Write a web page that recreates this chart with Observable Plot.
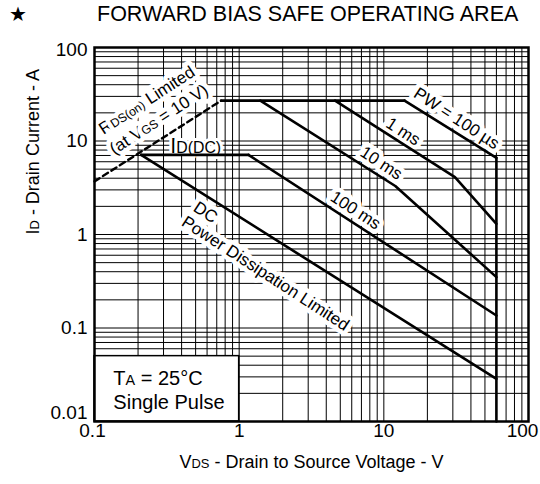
<!DOCTYPE html>
<html><head><meta charset="utf-8">
<script src="https://cdn.jsdelivr.net/npm/d3@7"></script>
<script src="https://cdn.jsdelivr.net/npm/@observablehq/plot@0.6"></script>
<style>
body{margin:0;background:#fff;font-family:"Liberation Sans",Arial,sans-serif;}
#head{position:relative;height:30px;width:540px;}
#star{position:absolute;left:9px;top:4px;font-size:20px;font-family:"DejaVu Sans",sans-serif;line-height:1;}
#title{position:absolute;left:97px;top:4px;font-size:21.5px;line-height:1;white-space:nowrap;}
</style></head><body>
<div id="head"><span id="star">★</span><span id="title">FORWARD BIAS SAFE OPERATING AREA</span></div>
<div id="chart"></div>
<script>
// ---- data (V in volts, I in amps) ----
const xTicks = [0.1, 1, 10, 100];
const yTicks = [0.01, 0.1, 1, 10, 100];

const rdsV = [0.1, 0.75];      const rdsI = [3.7, 27];
const idPulseV = [0.75, 13.9]; const idPulseI = [27, 27];
const pw100usV = [13.9, 60];   const pw100usI = [27, 6.6];
const pw1msV = [4.6, 31, 60];  const pw1msI = [27, 4.1, 1.3];
const pw10msV = [1.4, 12, 60]; const pw10msI = [27, 3.3, 0.35];
const idDCV = [0.21, 1.16];    const idDCI = [7.1, 7.1];
const pw100msV = [1.16, 60];   const pw100msI = [7.1, 0.136];
const dcV = [0.21, 60];        const dcI = [7.1, 0.0286];
const bvdssV = [60, 60];       const bvdssI = [6.6, 0.01];

const boxV = [0.1, 1];         const boxI = [0.01, 0.05];

const labelText = ["R_{DS(on)} Limited", "(at V_{GS} = 10 V)", "DC", "Power Dissipation Limited",
                   "PW = 100 µs", "1 ms", "10 ms", "100 ms"];
const labelV = [0.230, 0.279, 0.585, 1.52, 31.8, 13.6, 9.6, 6.37];
const labelI = [27.2, 17.0, 1.72, 0.383, 17.4, 12.6, 5.8, 1.81];
const labelAngle = [-33, -33, 33, 33, 33, 33, 33, 33];

const idLabelText = ["I_{D(DC)}"]; const idLabelV = [0.5]; const idLabelI = [8.9];

const noteText = ["T_{A} = 25°C", "Single Pulse"];
const noteV = [0.135, 0.135];
const noteI = [0.0286, 0.0161];

// ---- build tables ----
function rows(name, V, I) { return V.map((v, k) => ({name, v, i: I[k]})); }
const solid = [
  ...rows("idPulse", idPulseV, idPulseI),
  ...rows("100us", pw100usV, pw100usI),
  ...rows("1ms", pw1msV, pw1msI),
  ...rows("10ms", pw10msV, pw10msI),
  ...rows("idDC", idDCV, idDCI),
  ...rows("100ms", pw100msV, pw100msI),
  ...rows("dc", dcV, dcI),
  ...rows("bvdss", bvdssV, bvdssI)
];
const rds = rows("rds", rdsV, rdsI);
const labels = labelText.map((t, k) => ({t, v: labelV[k], i: labelI[k], a: labelAngle[k]}));
const idLabels = idLabelText.map((t, k) => ({t, v: idLabelV[k], i: idLabelI[k]}));
const notes = noteText.map((t, k) => ({t, v: noteV[k], i: noteI[k]}));
const box = [{x1: boxV[0], x2: boxV[1], y1: boxI[0], y2: boxI[1]}];

const xGrid = d3.scaleLog().domain([0.1, 100]).ticks().filter(d => d > 0.1 && d < 100);
const yGrid = d3.scaleLog().domain([0.01, 100]).ticks().filter(d => d > 0.01 && d < 100);
const fmt = d => String(d);

const font = "'Liberation Sans', Arial, sans-serif";
const svg = Plot.plot({
  width: 540, height: 454,
  marginTop: 17, marginBottom: 63, marginLeft: 94, marginRight: 12,
  style: {fontFamily: font, background: "white", color: "black"},
  x: {type: "log", domain: [0.1, 100]},
  y: {type: "log", domain: [0.01, 100]},
  marks: [
    Plot.ruleX(xGrid, {stroke: "black", strokeWidth: 1}),
    Plot.ruleY(yGrid, {stroke: "black", strokeWidth: 1}),
    Plot.rect(box, {x1: "x1", x2: "x2", y1: "y1", y2: "y2", fill: "white", stroke: "black", strokeWidth: 1.5}),
    Plot.text(labels, {x: "v", y: "i", text: "t", rotate: "a", fontSize: 17, fill: "black",
      stroke: "white", strokeWidth: 9, textAnchor: "middle", lineAnchor: "middle"}),
    Plot.text(idLabels, {x: "v", y: "i", text: "t", fontSize: 22, fill: "black",
      stroke: "white", strokeWidth: 6, textAnchor: "middle", lineAnchor: "middle"}),
    Plot.text(notes, {x: "v", y: "i", text: "t", fontSize: 20, fill: "black",
      textAnchor: "start", lineAnchor: "middle"}),
    Plot.line(solid, {x: "v", y: "i", z: "name", stroke: "black", strokeWidth: 2.6, strokeLinejoin: "miter"}),
    Plot.line(rds, {x: "v", y: "i", stroke: "black", strokeWidth: 2.4, strokeDasharray: "6,4"}),
    Plot.frame({stroke: "black", strokeWidth: 2.5}),
    Plot.axisX([xTicks[0]], {tickFormat: fmt, tickSize: 0, tickPadding: 2, fontSize: 19, label: null, dx: -2}),
    Plot.axisX(xTicks.slice(1, -1), {tickFormat: fmt, tickSize: 0, tickPadding: 2, fontSize: 19, label: null}),
    Plot.axisX(xTicks.slice(-1), {tickFormat: fmt, tickSize: 0, tickPadding: 2, fontSize: 19, label: null, dx: -6}),
    Plot.axisY([yTicks[0]], {tickFormat: fmt, tickSize: 0, tickPadding: 7, fontSize: 19, label: null, dy: -9}),
    Plot.axisY(yTicks.slice(1, -1), {tickFormat: fmt, tickSize: 0, tickPadding: 7, fontSize: 19, label: null}),
    Plot.axisY(yTicks.slice(-1), {tickFormat: fmt, tickSize: 0, tickPadding: 7, fontSize: 19, label: null, dy: 2}),
    Plot.text(["V_{DS} - Drain to Source Voltage - V"], {text: d => d, frameAnchor: "bottom", dy: 46, fontSize: 18, fill: "black"}),
    Plot.text(["I_{D} - Drain Current - A"], {text: d => d, frameAnchor: "left", dx: -61, rotate: -90, fontSize: 18, fill: "black"})
  ]
});

// subscripts: "_{...}" -> smaller tspan on the baseline
svg.querySelectorAll("text").forEach(el => {
  const targets = el.querySelectorAll("tspan").length ? [...el.querySelectorAll("tspan")] : [el];
  targets.forEach(node => {
    const s = node.textContent;
    if (!s.includes("_{")) return;
    node.textContent = "";
    const parts = s.split(/_\{([^}]*)\}/);
    parts.forEach((p, k) => {
      if (!p) return;
      if (k % 2 === 1) {
        const ts = document.createElementNS("http://www.w3.org/2000/svg", "tspan");
        ts.setAttribute("font-size", "0.72em");
        ts.textContent = p;
        node.appendChild(ts);
      } else {
        node.appendChild(document.createTextNode(p));
      }
    });
  });
});
document.getElementById("chart").appendChild(svg);
</script></body></html>
